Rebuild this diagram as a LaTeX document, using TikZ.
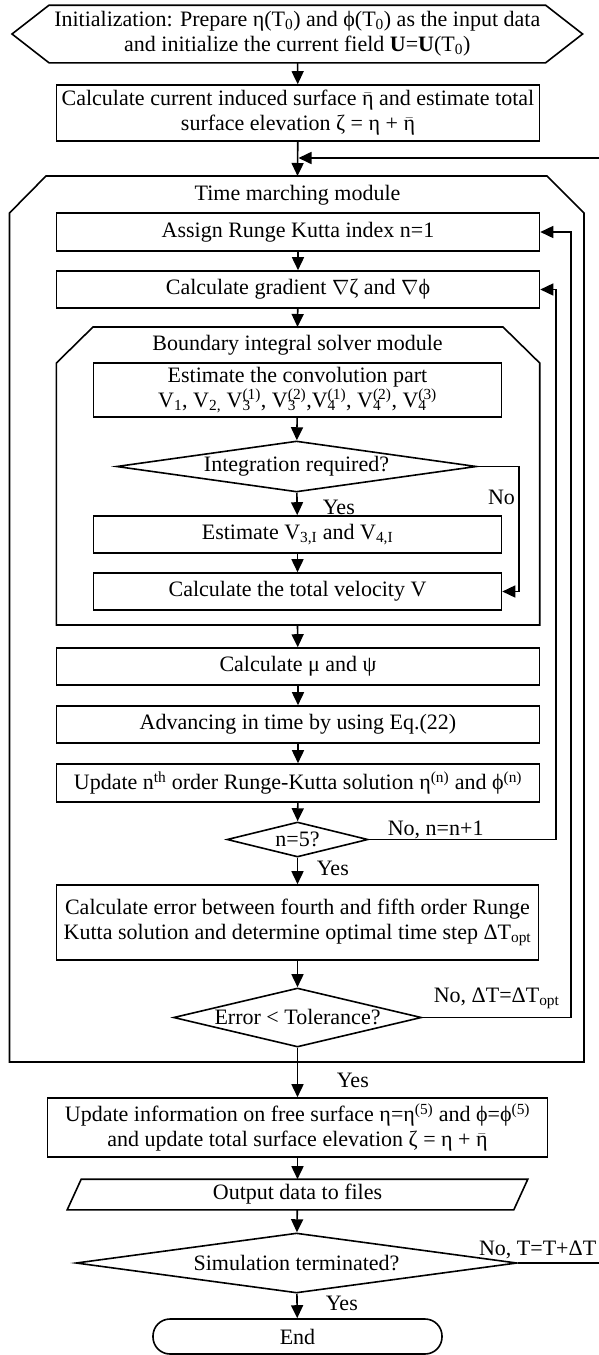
\documentclass[tikz,border=0pt]{standalone}
\usepackage{fontspec}
\setmainfont{Liberation Serif}
\usetikzlibrary{shapes.geometric,arrows.meta}
\newcommand{\etabar}{\ensuremath{\bar{\mbox{η}}}}
\newcommand{\Vsub}[2]{V\rlap{\textsubscript{#1}}\textsuperscript{#2}}
\begin{document}
\begin{tikzpicture}[x=1pt, y=-1pt, line width=1.6pt, >={Triangle[length=13pt,width=12pt]},
  font=\fontsize{22}{25}\selectfont,
  box/.style={draw, minimum width=483pt, minimum height=37pt, inner sep=0pt, align=center},
  ibox/.style={box, minimum width=408pt},
  dec/.style={draw, diamond, inner sep=0pt},
  lbl/.style={inner sep=0pt}]
\useasboundingbox (0,0) rectangle (598,1355);
\node[inner sep=0pt, minimum width=495pt, minimum height=56pt, align=center](init) at (297.3,34)
  {Initialization: Prepare η(T\textsubscript{0}) and ϕ(T\textsubscript{0}) as the input data\\
   and initialize the current field \textbf{U}=\textbf{U}(T\textsubscript{0})};
\draw (init.north west) -- (init.north east) -- ([xshift=37pt]init.east) -- (init.south east)
  -- (init.south west) -- ([xshift=-37pt]init.west) -- cycle;
\node[box, minimum height=56pt](surf) at (298,113)
  {Calculate current induced surface \etabar{} and estimate total\\
   surface elevation ζ = η + \etabar};
\coordinate(join) at (298.5,158);
\coordinate(tmtop) at (297.5,176);
% time marching module
\draw (9.5,1062) -- (9.5,213) -- (46,176) -- (547,176) -- (584,213) -- (584,1062) -- cycle;
\node[lbl](tm) at (297.5,195) {Time marching module};
\node[box, minimum height=38pt](assign) at (298,232) {Assign Runge Kutta index n=1};
\node[box](grad) at (298,289.5) {Calculate gradient $\nabla$ζ and $\nabla$ϕ};
\coordinate(bistop) at (297.5,327);
% boundary integral solver module
\draw (56.4,625) -- (56.4,363) -- (93,327) -- (503,327) -- (539.7,363) -- (539.7,625) -- cycle;
\coordinate(bisbot) at (297.5,625);
\node[lbl](bis) at (297.5,345) {Boundary integral solver module};
\node[ibox, minimum height=54pt](conv) at (297.5,390)
  {Estimate the convolution part\\
   V\textsubscript{1}, V\textsubscript{2,} \Vsub{3}{(1)}, \Vsub{3}{(2)},\Vsub{4}{(1)}, \Vsub{4}{(2)}, \Vsub{4}{(3)}};
\node[dec, aspect=7, minimum width=360pt, minimum height=51pt](integ) at (296.5,466.5) {Integration required?};
\node[ibox](estI) at (297.5,534.5) {Estimate V\textsubscript{3,I} and V\textsubscript{4,I}};
\node[ibox](total) at (297.5,591.5) {Calculate the total velocity V};
\node[box](mu) at (298,666.5) {Calculate μ and ψ};
\node[box](adv) at (298,724.5) {Advancing in time by using Eq.(22)};
\node[box, minimum height=38pt](upd) at (298,783)
  {Update n\textsuperscript{th} order Runge-Kutta solution η\textsuperscript{(n)} and ϕ\textsuperscript{(n)}};
\node[dec, aspect=4, minimum width=141pt, minimum height=35pt](n5) at (297.5,839.5) {n=5?};
\node[box, minimum width=482pt, minimum height=75pt](err) at (297.5,922.5)
  {Calculate error between fourth and fifth order Runge\\
   Kutta solution and determine optimal time step ΔT\textsubscript{opt}};
\node[dec, aspect=4.25, minimum width=248pt, minimum height=59pt](tol) at (297.5,1017.5) {Error < Tolerance?};
\node[box, minimum width=500pt, minimum height=59pt](fin) at (297.5,1127.5)
  {Update information on free surface η=η\textsuperscript{(5)} and ϕ=ϕ\textsuperscript{(5)}\\
   and update total surface elevation ζ = η + \etabar};
\node[inner sep=0pt, minimum width=445pt, minimum height=29pt](out) at (297.5,1194.5) {Output data to files};
\draw ([xshift=7pt]out.north west) -- ([xshift=7pt]out.north east) -- ([xshift=-7pt]out.south east)
  -- ([xshift=-7pt]out.south west) -- cycle;
\node[dec, aspect=7, minimum width=441pt, minimum height=60pt](sim) at (296.5,1263) {Simulation terminated?};
\node[draw, rounded corners=17pt, minimum width=289pt, minimum height=35pt, inner sep=0pt](end) at (297.5,1336.5) {End};
\path[->]
(init) edge (surf)
(surf) edge (tmtop)
(assign) edge (grad)
(grad) edge (bistop)
(conv) edge (integ)
(integ) edge (estI)
(estI) edge (total)
(bisbot) edge (mu)
(mu) edge (adv)
(adv) edge (upd)
(upd) edge (n5)
(n5) edge (err)
(err) edge (tol)
(tol) edge (fin)
(fin) edge (out)
(out) edge (sim)
(sim) edge (end);
\draw[->] (integ.east) -- ++(41.5,0) |- (total.east);
\draw[->] (n5.east) -- ++(187,0) |- (grad.east);
\draw[->] (tol.east) -- ++(148.5,0) |- (assign.east);
\draw[->] (sim.east) -- (620,1263) |- (join);
\node[lbl, anchor=west](y1) at (322,507) {Yes};
\node[lbl](no1) at (501.5,497) {No};
\node[lbl, anchor=west](y2) at (316,868) {Yes};
\node[lbl, anchor=west](no2) at (387,830) {No, n=n+1};
\node[lbl, anchor=west](y3) at (336,1080) {Yes};
\node[lbl, anchor=west](no3) at (433,998) {No, ΔT=ΔT\textsubscript{opt}};
\node[lbl, anchor=west](y4) at (325,1303) {Yes};
\node[lbl, anchor=east](no4) at (597,1250) {No, T=T+ΔT};
\end{tikzpicture}
\end{document}
